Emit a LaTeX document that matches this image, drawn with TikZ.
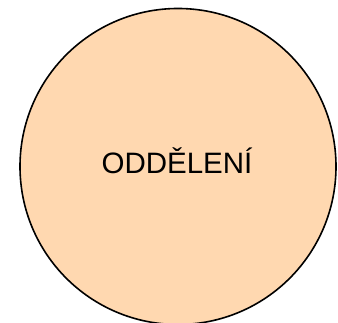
\documentclass[tikz,border=0pt]{standalone}
\usepackage{fontspec}
\setmainfont{Liberation Sans}
\usetikzlibrary{positioning}
\definecolor{peach}{HTML}{FFD8B0}

\begin{document}
\begin{tikzpicture}[x=1pt,y=1pt,
entity/.style={circle,draw=black,fill=peach,line width=1.6pt,minimum size=316pt,inner sep=0pt},
label/.style={font=\fontsize{29.5}{32}\selectfont,text=black}]
\useasboundingbox (0,0) rectangle (338,323);

\node[entity] (odd) at (178,156.5){};
\node[label,anchor=base] (oddtext) at (177,149.7){ODDĚLENÍ};
\end{tikzpicture}
\end{document}
